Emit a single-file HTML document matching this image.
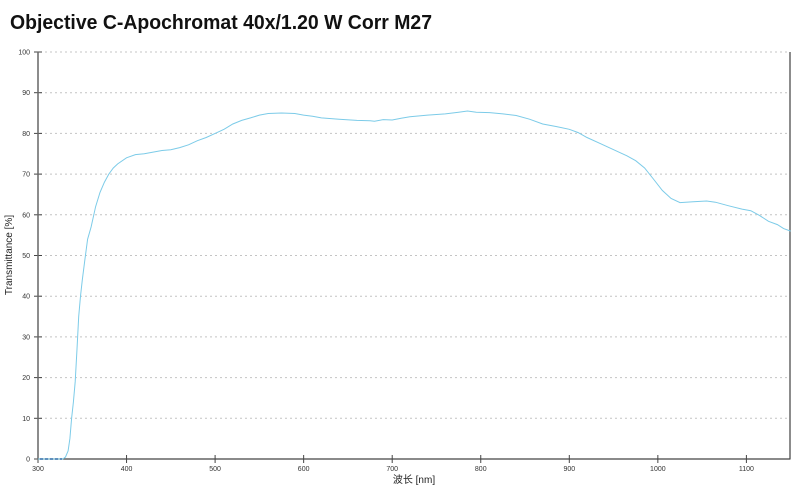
<!DOCTYPE html>
<html><head><meta charset="utf-8"><style>
body{margin:0;background:#fff;width:800px;height:490px;overflow:hidden}
</style></head><body>
<svg width="800" height="490" xmlns="http://www.w3.org/2000/svg" font-family="Liberation Sans, Noto Sans CJK SC, sans-serif">
<text x="10" y="29" font-size="20" font-weight="bold" fill="#111" textLength="422" lengthAdjust="spacingAndGlyphs">Objective C-Apochromat 40x/1.20 W Corr M27</text>
<g id="grid" stroke="#c4c4c4" stroke-width="1" stroke-dasharray="2,3"></g>
<g id="ticks" stroke="#444" stroke-width="1"></g>
<g id="lbl" font-size="7" fill="#333"></g>
<line x1="38" y1="52" x2="38" y2="459.5" stroke="#666" stroke-width="1.5"/>
<line x1="790" y1="52" x2="790" y2="459.5" stroke="#666" stroke-width="1.5"/>
<line x1="38" y1="459" x2="790" y2="459" stroke="#444" stroke-width="1.2"/>
<path id="curve" fill="none" stroke="#7ccbe8" stroke-width="1"/>
<line x1="40" y1="459" x2="62" y2="459" stroke="#3a7ab8" stroke-width="1.5" stroke-dasharray="3,2"/>
<text x="12" y="255" font-size="10" fill="#222" text-anchor="middle" transform="rotate(-90 12 255)">Transmittance [%]</text>
<text x="414" y="483" font-size="10" fill="#222" text-anchor="middle">波长 [nm]</text>
</svg>
<script>
const X=nm=>38+(nm-300)*0.8855, Y=v=>459-4.07*v;
const ns="http://www.w3.org/2000/svg";
function el(g,t,a,txt){const e=document.createElementNS(ns,t);for(const k in a)e.setAttribute(k,a[k]);if(txt)e.textContent=txt;document.getElementById(g).appendChild(e);}
for(let v=10;v<=100;v+=10){el('grid','line',{x1:40,x2:790,y1:Y(v),y2:Y(v)});}
for(let v=0;v<=100;v+=10){el('ticks','line',{x1:34,x2:42,y1:Y(v),y2:Y(v)});el('lbl','text',{x:30,y:Y(v)+2.5,'text-anchor':'end'},String(v));}
for(let n=300;n<=1100;n+=100){el('ticks','line',{x1:X(n),x2:X(n),y1:455,y2:463});el('lbl','text',{x:X(n),y:471,'text-anchor':'middle'},String(n));}
const d=[[300,0],[328,0],[331,0.5],[334,2],[336,5],[338,10],[340,14],[342,19],[344,27],[346,35],[348,40],[350,44],[353,49],[356,54],[360,57],[365,62],[370,65.5],[375,68],[380,70],[385,71.5],[390,72.5],[400,74],[410,74.8],[420,75],[430,75.4],[440,75.8],[450,76],[460,76.5],[470,77.2],[480,78.2],[490,79],[500,80],[510,81],[520,82.3],[530,83.2],[540,83.8],[550,84.5],[560,84.9],[575,85],[590,84.9],[600,84.5],[610,84.2],[620,83.8],[640,83.5],[660,83.2],[675,83.1],[680,83],[690,83.4],[700,83.3],[710,83.7],[720,84.1],[740,84.5],[760,84.8],[775,85.2],[785,85.5],[795,85.2],[810,85.1],[825,84.8],[840,84.4],[855,83.5],[870,82.3],[885,81.7],[900,81],[910,80.2],[920,79],[935,77.5],[950,76],[965,74.5],[975,73.3],[985,71.5],[995,68.8],[1005,66],[1015,64],[1025,63],[1040,63.2],[1055,63.4],[1065,63.1],[1080,62.2],[1095,61.4],[1105,61],[1115,59.8],[1125,58.4],[1135,57.6],[1142,56.6],[1150,56]];
document.getElementById('curve').setAttribute('d','M'+d.map(p=>X(p[0]).toFixed(1)+','+Y(p[1]).toFixed(1)).join(' L'));
</script>
</body></html>
